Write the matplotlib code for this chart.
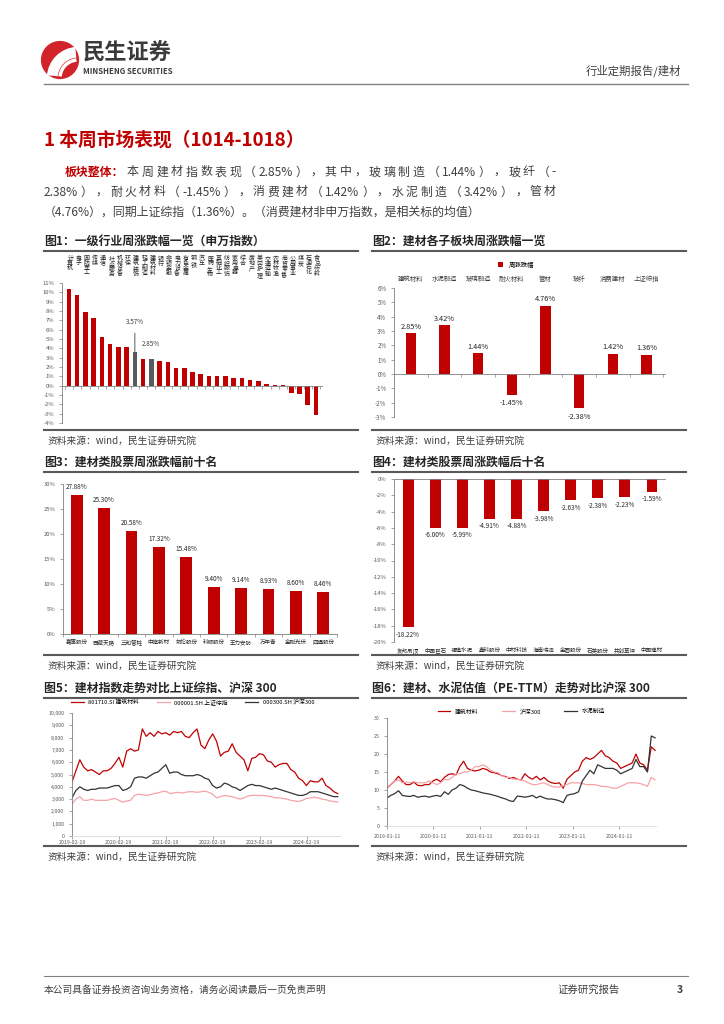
import re
import numpy as np
import pandas as pd
import matplotlib
matplotlib.use("Agg")
import matplotlib.pyplot as plt
from matplotlib.lines import Line2D
from matplotlib.patches import Circle, Arc

plt.rcParams['font.family'] = ['Noto Sans CJK SC', 'DejaVu Sans']
plt.rcParams['axes.unicode_minus'] = False

RED = '#C00000'
GREY_BAR = '#595959'
PINK = '#F6A3A8'
DARK = '#333333'
TXT = '#404040'

# ---- data ----
# fig1: 申万一级行业周涨跌幅 (%)
ind_names = ['计算机', '电子', '国防军工', '传媒', '通信', '社会服务', '机械设备', '环保',
             '建筑装饰', '轻工制造', '建筑材料', '银行', '非银金融', '电力设备', '有色金属',
             '钢铁', '汽车', '医药生物', '基础化工', '纺织服饰', '家用电器', '综合', '房地产',
             '美容护理', '交通运输', '农林牧渔', '商贸零售', '公用事业', '煤炭', '石油石化', '食品饮料']
ind_chg = [10.36, 9.70, 7.90, 7.30, 5.20, 4.50, 4.10, 4.10, 3.57, 2.90, 2.85, 2.60, 2.50, 1.90,
           1.85, 1.50, 1.20, 1.00, 1.00, 1.00, 0.80, 0.80, 0.60, 0.55, 0.15, 0.12, 0.02,
           -0.75, -0.90, -2.10, -3.10]
ind_grey = ['建筑装饰', '建筑材料']

# fig2: 子板块
sub_names = ['建筑材料', '水泥制造', '玻璃制造', '耐火材料', '管材', '玻纤', '消费建材', '上证综指']
sub_chg = [2.85, 3.42, 1.44, -1.45, 4.76, -2.38, 1.42, 1.36]

# fig3 / fig4: 个股
top_names = ['嘉寓股份', '西藏天路', '三和管桩', '中旗新材', '凯伦股份', '科顺股份', '王力安防',
             '万年青', '金刚光伏', '四通股份']
top_chg = [27.88, 25.30, 20.58, 17.32, 15.48, 9.40, 9.14, 8.93, 8.60, 8.46]
bot_names = ['友邦吊顶', '中国巨石', '福建水泥', '鑫科股份', '中材科技', '海南瑞泽', '金圆股份',
             '石英股份', '共创草坪', '中国建材']
bot_chg = [-18.22, -6.00, -5.99, -4.91, -4.88, -3.98, -2.63, -2.38, -2.23, -1.59]

# fig5: 指数走势 (月度读数)
idx_bm = [4400, 5300, 6200, 5600, 5300, 5400, 5200, 5000, 5300, 5300, 5500, 5900, 6400, 5600,
          6900, 7100, 6900, 7000, 8700, 8100, 8400, 8100, 8500, 8300, 8400, 8200, 8500, 8400,
          8500, 8100, 8000, 8400, 8700, 7400, 7100, 7800, 8300, 7700, 6500, 6800, 6900, 7500,
          6800, 6500, 6200, 5300, 6300, 6400, 6700, 6600, 6100, 6000, 5600, 5800, 5900, 5900,
          5400, 5200, 4700, 4500, 4100, 4500, 4400, 4400, 4700, 4100, 3900, 3600, 3450]
idx_sh = [2600, 3000, 3200, 2900, 2900, 3000, 2900, 2900, 2900, 2900, 3000, 3050, 2900, 2750,
          2850, 2900, 3300, 3400, 3350, 3300, 3350, 3450, 3500, 3600, 3650, 3450, 3500, 3550,
          3500, 3550, 3600, 3600, 3550, 3600, 3650, 3550, 3400, 3100, 3200, 3300, 3250, 3200,
          3100, 3000, 3100, 3250, 3300, 3300, 3300, 3300, 3250, 3200, 3100, 3100, 3050, 3000,
          2900, 2850, 2800, 2900, 3050, 3100, 3150, 3100, 3000, 2950, 2850, 2800, 2750]
idx_hs = [3100, 3700, 4000, 3800, 3700, 3800, 3800, 3900, 3900, 3900, 4000, 4100, 4100, 3700,
          3800, 4000, 4700, 4800, 4800, 4700, 4900, 5100, 5200, 5500, 5800, 5100, 5200, 5200,
          5000, 4900, 4900, 4900, 5000, 4900, 4700, 4600, 4100, 3900, 4000, 4300, 4200, 4000,
          3900, 3700, 3900, 4100, 4200, 4100, 4100, 4000, 3900, 3800, 3900, 3800, 3700, 3600,
          3500, 3400, 3300, 3300, 3400, 3600, 3600, 3600, 3500, 3400, 3300, 3200, 3200]
idx_ticks = ['2019-02-19', '2020-02-19', '2021-02-19', '2022-02-19', '2023-02-19', '2024-02-19']

# fig6: PE-TTM (月度读数)
pe_bm = [10.5, 11.5, 12.5, 13.8, 12.5, 11.5, 11.5, 12.2, 11.3, 11.2, 11.5, 11.5, 12.5, 13.0,
         12.3, 13.5, 14.3, 14.5, 14.2, 16.5, 18.0, 16.0, 15.5, 15.3, 15.5, 16.0, 15.7, 15.0,
         14.8, 14.5, 14.0, 13.7, 13.2, 13.5, 13.0, 12.8, 14.5, 13.5, 13.0, 13.8, 12.8, 13.5,
         12.5, 12.0, 11.8, 12.0, 10.5, 13.0, 14.0, 15.0, 15.5, 18.0, 19.0, 18.5, 19.0, 20.0,
         21.0, 19.5, 19.0, 18.0, 17.5, 16.0, 16.5, 17.0, 17.5, 20.0, 17.5, 17.0, 15.5, 22.0, 21.0]
pe_hs = [10.5, 11.5, 12.5, 12.8, 12.0, 12.2, 12.0, 12.3, 12.0, 12.0, 12.0, 12.5, 12.0, 11.5,
         12.0, 13.0, 12.8, 13.5, 14.5, 14.5, 15.0, 15.0, 15.5, 16.5, 16.5, 17.0, 16.5, 15.5,
         15.0, 14.8, 14.0, 13.5, 13.5, 13.0, 13.0, 12.8, 12.5, 12.0, 11.5, 11.5, 11.8, 12.0,
         11.5, 11.0, 10.8, 10.8, 11.2, 11.5, 12.0, 12.0, 12.0, 11.8, 11.5, 11.5, 11.5, 11.3,
         11.0, 11.0, 10.8, 10.5, 10.5, 11.0, 11.5, 12.0, 12.0, 12.0, 11.8, 11.5, 11.0, 13.5, 12.8]
pe_cem = [7.8, 8.5, 9.0, 9.8, 8.5, 8.3, 8.2, 8.5, 8.0, 8.2, 8.3, 8.0, 8.3, 8.5, 8.2, 9.5, 8.8,
          10.0, 10.5, 11.5, 11.2, 10.5, 10.0, 9.8, 9.5, 9.2, 9.0, 8.8, 8.5, 8.2, 7.8, 7.5, 7.0,
          6.8, 8.3, 8.2, 8.0, 8.2, 8.5, 7.8, 8.3, 7.8, 7.5, 7.5, 7.3, 7.0, 6.5, 8.5, 8.8, 9.0,
          9.5, 12.5, 14.0, 15.5, 14.5, 17.0, 16.5, 16.0, 16.0, 16.0, 15.5, 14.5, 15.0, 15.5, 16.0,
          18.5, 16.5, 16.5, 15.0, 25.0, 24.5]
pe_ticks = ['2019-01-11', '2020-01-11', '2021-01-11', '2022-01-11', '2023-01-11', '2024-01-11']

# ---- page ----
W, H = 724, 1024
fig = plt.figure(figsize=(W / 100, H / 100), dpi=100)
renderer = fig.canvas.get_renderer()


def ax_px(x0, y0, x1, y1):
    return fig.add_axes([x0 / W, 1 - y1 / H, (x1 - x0) / W, (y1 - y0) / H])


def txt(x, y, s, **kw):
    kw.setdefault('va', 'center')
    return fig.text(x / W, 1 - y / H, s, **kw)


def justify(x0, x1, y, s, **kw):
    # 两端对齐: 数字/字母连在一起, 汉字和标点逐个排
    toks = re.findall(r'[0-9A-Za-z.%\-]+|.', s)
    ws = []
    for tk in toks:
        t = txt(0, 0, tk, **kw)
        ws.append(t.get_window_extent(renderer).width)
        t.remove()
    gap = ((x1 - x0) - sum(ws)) / (len(toks) - 1)
    x = x0
    for tk, w in zip(toks, ws):
        txt(x, y, tk, **kw)
        x += w + gap


def hline(x0, x1, y, lw=1.5, color='#595959'):
    fig.add_artist(Line2D([x0 / W, x1 / W], [1 - y / H, 1 - y / H],
                          transform=fig.transFigure, lw=lw, color=color))


def style_ax(ax, fs=4.5):
    for s in ['top', 'right']:
        ax.spines[s].set_visible(False)
    for s in ['left', 'bottom']:
        ax.spines[s].set_color('#808080')
        ax.spines[s].set_linewidth(0.6)
    ax.tick_params(labelsize=fs, colors='#808080', labelcolor='#595959', length=2, width=0.5)
    ax.patch.set_alpha(0)


# logo
lax = ax_px(40, 40, 80, 80)
lax.set_xlim(0, 1)
lax.set_ylim(0, 1)
lax.axis('off')
lax.add_patch(Circle((0.5, 0.5), 0.46, color='#D2232A'))
for r, w in [(0.55, 4.5), (0.42, 3.5), (0.30, 2.5)]:
    lax.add_patch(Arc((0.95, 0.05), 2 * r + 0.3, 2 * r + 0.3, theta1=95, theta2=175,
                      color='white', lw=w))
txt(83, 53, '民生证券', fontsize=16, fontweight='bold', color='#3A3A3A')
txt(83, 71, 'MINSHENG SECURITIES', fontsize=5.6, fontweight='bold', color='#3A3A3A')
txt(681, 71, '行业定期报告/建材', fontsize=8.2, color=TXT, ha='right')
hline(44, 688, 84, lw=1.0, color='#808080')

# title and paragraph
txt(44, 140, '1 本周市场表现（1014-1018）', fontsize=13.5, fontweight='bold', color=RED)
txt(65, 172, '板块整体：', fontsize=8.6, fontweight='bold', color=RED)
justify(127, 556, 172, '本周建材指数表现（2.85%），其中，玻璃制造（1.44%），玻纤（-',
        fontsize=8.6, color=TXT)
justify(44, 556, 192, '2.38%），耐火材料（-1.45%），消费建材（1.42%），水泥制造（3.42%），管材',
        fontsize=8.6, color=TXT)
txt(44, 212, '（4.76%），同期上证综指（1.36%）。（消费建材非申万指数，是相关标的均值）',
    fontsize=8.6, color=TXT)

# figure headers, rules and sources
heads = [(44, 241, '图1：一级行业周涨跌幅一览（申万指数）'),
         (372, 241, '图2：建材各子板块周涨跌幅一览'),
         (44, 462, '图3：建材类股票周涨跌幅前十名'),
         (372, 462, '图4：建材类股票周涨跌幅后十名'),
         (44, 688, '图5：建材指数走势对比上证综指、沪深 300'),
         (372, 688, '图6：建材、水泥估值（PE-TTM）走势对比沪深 300')]
for x, y, s in heads:
    txt(x, y, s, fontsize=8.6, fontweight='bold', color='#262626')
    hline(x, x + 314, y + 10)
for y in [430, 655, 846]:
    for x in [44, 372]:
        hline(x, x + 314, y)
        txt(x + 4, y + 11, '资料来源：wind，民生证券研究院', fontsize=7, color=TXT)

# footer
hline(44, 688, 976, lw=0.8, color='#808080')
txt(44, 990, '本公司具备证券投资咨询业务资格，请务必阅读最后一页免责声明', fontsize=7, color=TXT)
txt(620, 990, '证券研究报告', fontsize=7.5, color=TXT, ha='right')
txt(683, 990, '3', fontsize=7.5, fontweight='bold', color=TXT, ha='right')

# ---- fig1 ----
ax1 = ax_px(62, 283, 322, 423)
x1 = np.arange(len(ind_names))
cols = [GREY_BAR if n in ind_grey else RED for n in ind_names]
ax1.bar(x1, ind_chg, width=0.55, color=cols)
ax1.set_xlim(-0.85, 30.73)
ax1.set_ylim(-4, 11)
ax1.set_yticks(np.arange(-4, 12, 1))
ax1.set_yticklabels([f'{v}%' for v in range(-4, 12)])
style_ax(ax1, 4.2)
ax1.spines['bottom'].set_position(('data', 0))
ax1.set_xticks(np.arange(-0.5, 31, 1))
ax1.set_xticklabels([])
for i, n in enumerate(ind_names):
    ax1.text(i + 0.15, 1.195, '\n'.join(n), transform=ax1.get_xaxis_transform(), ha='center',
             va='top', fontsize=4.3, linespacing=0.95, color='#262626')
i_a = ind_names.index('建筑装饰')
ax1.annotate(f'{ind_chg[i_a]:.2f}%', xy=(i_a, ind_chg[i_a]), xytext=(i_a, 6.8), ha='center',
             va='center', fontsize=4.6, color='#404040',
             arrowprops=dict(arrowstyle='-', color='#404040', lw=0.6, shrinkA=3, shrinkB=0))
i_b = ind_names.index('建筑材料')
ax1.text(i_b, 4.5, f'{ind_chg[i_b]:.2f}%', ha='center', va='center', fontsize=4.6, color='#404040')

# ---- fig2 ----
ax2 = ax_px(394, 288, 665, 417)
x2 = np.arange(len(sub_names))
ax2.bar(x2, sub_chg, width=0.3, color=RED, label='周涨跌幅')
ax2.set_xlim(-0.5, 7.55)
ax2.set_ylim(-3, 6)
ax2.set_yticks(np.arange(-3, 7, 1))
ax2.set_yticklabels([f'{v}%' for v in range(-3, 7)])
style_ax(ax2, 4.4)
ax2.spines['bottom'].set_position(('data', 0))
ax2.set_xticks(np.arange(-0.5, 8, 1))
ax2.set_xticklabels([])
for i, v in enumerate(sub_chg):
    ax2.text(i, v + 0.45 if v > 0 else v - 0.6, f'{v:.2f}%', ha='center', va='center',
             fontsize=5.3, color='#262626')
    ax2.text(i, 1.07, sub_names[i], transform=ax2.get_xaxis_transform(), ha='center',
             va='center', fontsize=4.6, color='#404040')
ax2.legend(loc='center', bbox_to_anchor=(0.45, 1.18), frameon=False, fontsize=4.6,
           handlelength=0.8, handleheight=0.8)

# ---- fig3 ----
ax3 = ax_px(63, 484, 337, 634)
x3 = np.arange(len(top_names))
ax3.bar(x3, top_chg, width=0.43, color=RED)
ax3.set_xlim(-0.49, 9.36)
ax3.set_ylim(0, 30)
ax3.set_yticks(np.arange(0, 31, 5))
ax3.set_yticklabels([f'{v}%' for v in range(0, 31, 5)])
style_ax(ax3, 4.2)
ax3.set_xticks(np.arange(-0.5, 10, 1))
ax3.set_xticklabels([])
for i, v in enumerate(top_chg):
    ax3.text(i, v + 1.6, f'{v:.2f}%', ha='center', va='center', fontsize=4.6, color='#262626')
    ax3.text(i, -0.055, top_names[i], transform=ax3.get_xaxis_transform(), ha='center',
             va='center', fontsize=4.0, color='#262626')

# ---- fig4 ----
ax4 = ax_px(394, 479, 665, 642)
x4 = np.arange(len(bot_names))
ax4.bar(x4, bot_chg, width=0.4, color=RED)
ax4.set_xlim(-0.52, 9.48)
ax4.set_ylim(-20, 0)
ax4.set_yticks(np.arange(-20, 1, 2))
ax4.set_yticklabels([f'{v}%' for v in range(-20, 1, 2)])
style_ax(ax4, 4.2)
ax4.spines['bottom'].set_visible(False)
ax4.spines['top'].set_visible(True)
ax4.spines['top'].set_color('#808080')
ax4.spines['top'].set_linewidth(0.6)
ax4.set_xticks([])
for i, v in enumerate(bot_chg):
    ax4.text(i, v - 0.9, f'{v:.2f}%', ha='center', va='center', fontsize=4.6, color='#262626')
    ax4.text(i, -0.05, bot_names[i], transform=ax4.get_xaxis_transform(), ha='center',
             va='center', fontsize=4.0, color='#262626')

# ---- fig5 ----
ax5 = ax_px(72, 713, 340, 836)
d5 = pd.date_range('2019-02-19', '2024-10-18', periods=len(idx_bm))
ax5.plot(d5, idx_bm, color=RED, lw=0.9, label='801710.SI 建筑材料')
ax5.plot(d5, idx_sh, color=PINK, lw=0.9, label='000001.SH 上证综指')
ax5.plot(d5, idx_hs, color=DARK, lw=0.9, label='000300.SH 沪深300')
ax5.set_ylim(0, 10000)
ax5.set_yticks(np.arange(0, 10001, 1000))
ax5.set_yticklabels([f'{v:,}' for v in range(0, 10001, 1000)])
ax5.set_xlim(d5[0], pd.Timestamp('2024-11-05'))
ax5.set_xticks(pd.to_datetime(idx_ticks))
ax5.set_xticklabels(idx_ticks)
style_ax(ax5, 3.8)
ax5.tick_params(axis='x', pad=1)
ax5.spines['bottom'].set_color('#D9D9D9')
ax5.legend(loc='center', bbox_to_anchor=(0.45, 1.09), ncol=3, frameon=False, fontsize=4.2,
           handlelength=2.2, columnspacing=3)

# ---- fig6 ----
ax6 = ax_px(387, 718, 656, 826)
d6 = pd.date_range('2019-01-11', '2024-10-18', periods=len(pe_bm))
ax6.plot(d6, pe_bm, color=RED, lw=0.9, label='建筑材料')
ax6.plot(d6, pe_hs, color=PINK, lw=0.9, label='沪深300')
ax6.plot(d6, pe_cem, color=DARK, lw=0.9, label='水泥制造')
ax6.set_ylim(0, 30)
ax6.set_yticks(np.arange(0, 31, 5))
ax6.set_xlim(d6[0], pd.Timestamp('2024-10-25'))
ax6.set_xticks(pd.to_datetime(pe_ticks))
ax6.set_xticklabels(pe_ticks)
style_ax(ax6, 3.8)
ax6.spines['bottom'].set_color('#D9D9D9')
ax6.legend(loc='center', bbox_to_anchor=(0.5, 1.06), ncol=3, frameon=False, fontsize=4.2,
           handlelength=2.2, columnspacing=4)

fig.savefig('out.png', dpi=100)
